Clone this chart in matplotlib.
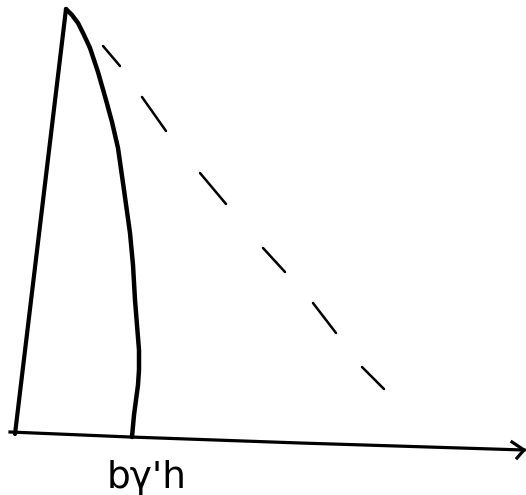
import matplotlib.pyplot as plt

# sketch coordinates, in pixels (y grows downward)
left_x = [15, 66]
left_y = [434, 9]

curve_x = [66, 72, 78, 84, 90, 98, 106, 112, 118, 124, 130, 133, 135, 137, 139, 139, 138, 136, 134, 132]
curve_y = [9, 15, 23, 35, 48, 72, 100, 122, 148, 190, 233, 265, 300, 325, 350, 370, 385, 400, 415, 437]

dash_segments = [
    ((103, 46), (120, 66)),
    ((142, 97), (166, 131)),
    ((200, 173), (226, 204)),
    ((263, 248), (285, 272)),
    ((313, 303), (336, 333)),
    ((362, 367), (384, 389)),
]

axis_x = [10, 130, 300, 524]
axis_y = [432, 437, 443, 450]

label_text = "bγ'h"

fig = plt.figure(figsize=(5.26, 4.95), dpi=100)
ax = fig.add_axes([0, 0, 1, 1])
ax.set_xlim(0, 526)
ax.set_ylim(495, 0)
ax.axis("off")

ax.plot(left_x, left_y, color="black", lw=3.0, solid_capstyle="round")
ax.plot(curve_x, curve_y, color="black", lw=3.2, solid_capstyle="round")

for (x0, y0), (x1, y1) in dash_segments:
    ax.plot([x0, x1], [y0, y1], color="black", lw=1.8, solid_capstyle="round")

ax.plot(axis_x, axis_y, color="black", lw=2.3)
# arrow head
ax.plot([512, 524, 517], [442, 450, 458], color="black", lw=2.3, solid_joinstyle="miter")

ax.text(147, 488, label_text, fontsize=27, ha="center", va="baseline", color="black")

fig.savefig("out.png", dpi=100)
